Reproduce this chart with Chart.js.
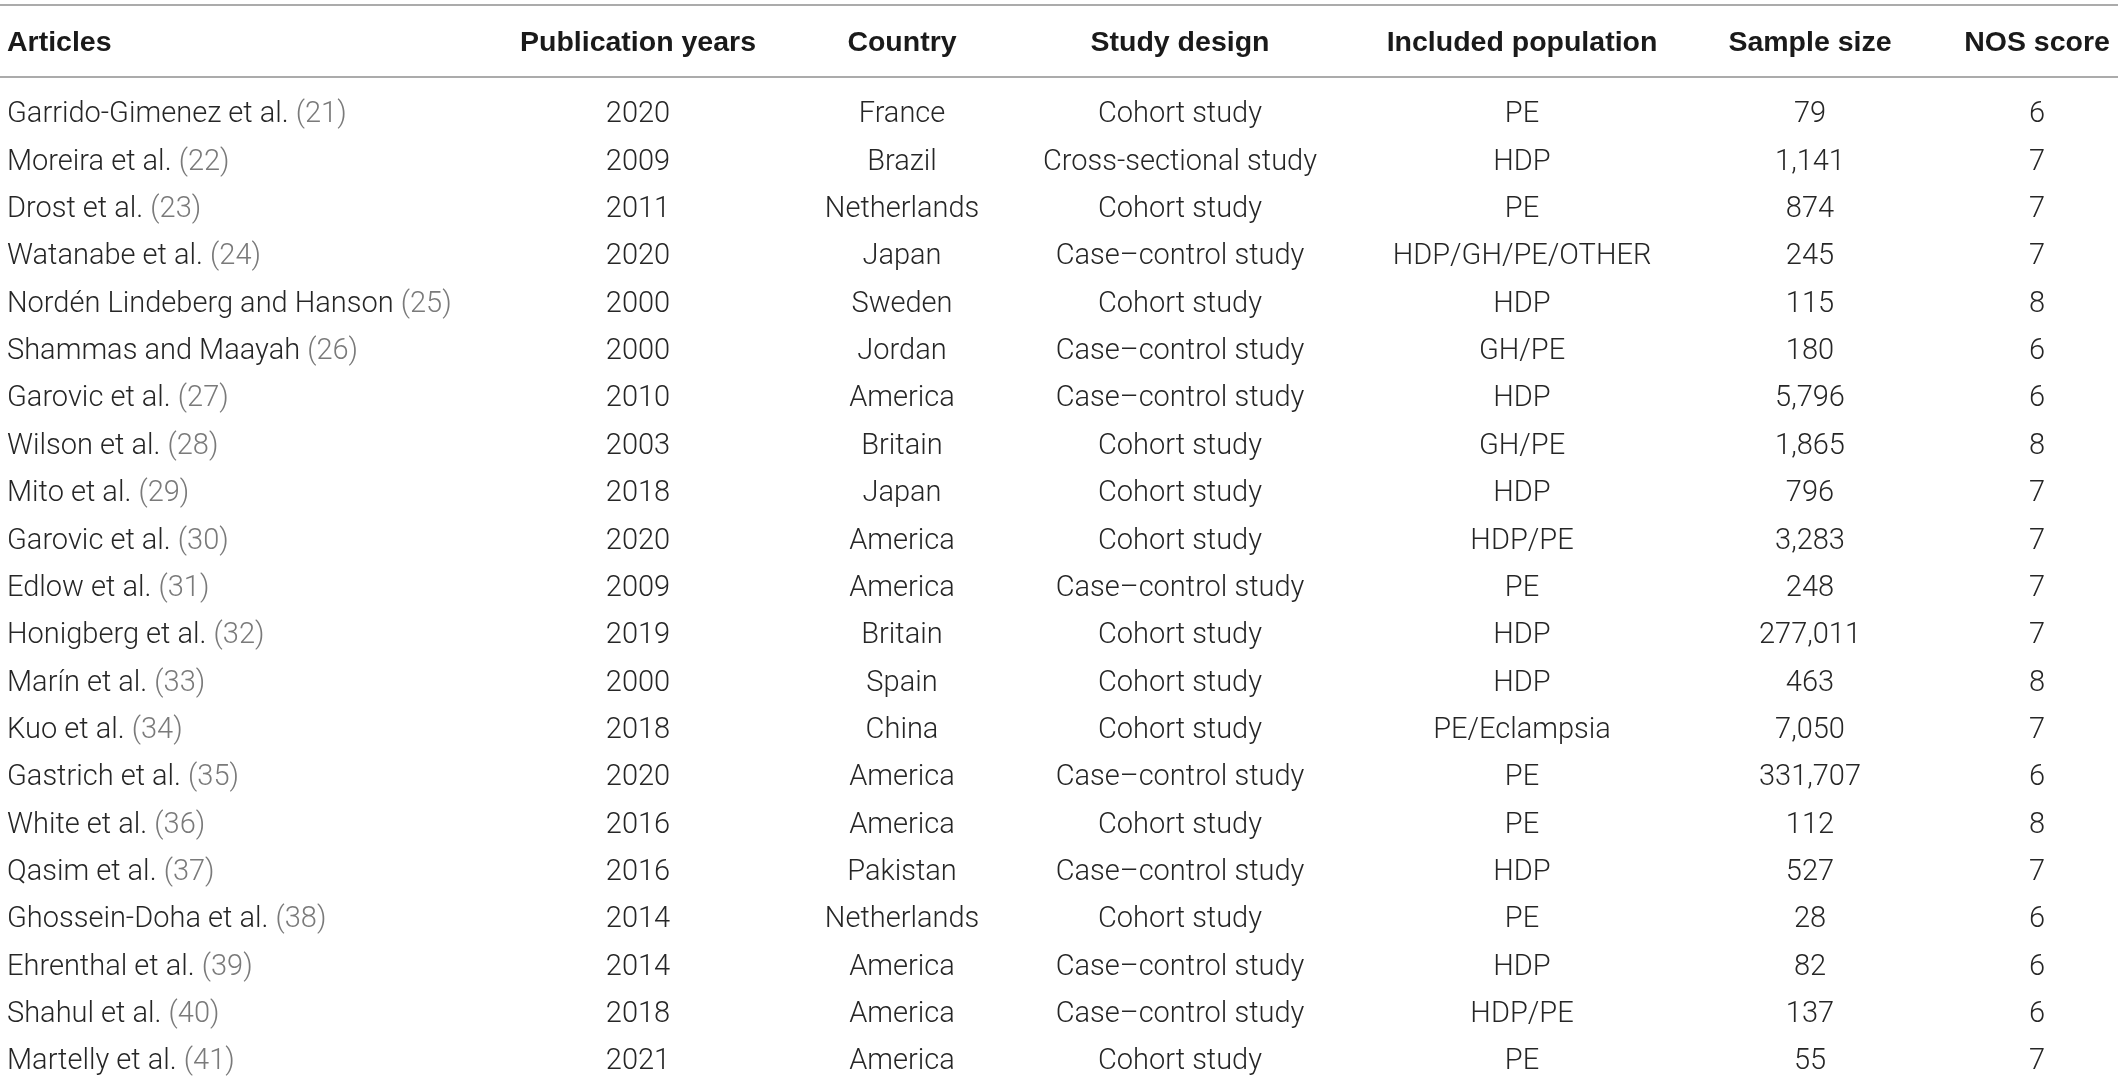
<!DOCTYPE html>
<html>
<head>
<meta charset="utf-8">
<script src="https://cdn.jsdelivr.net/npm/chart.js@4.4.1/dist/chart.umd.min.js"></script>
<style>
  html, body { margin: 0; padding: 0; background: #fff; }
  .table-area { width: 2118px; height: 1080px; position: relative; }
</style>
</head>
<body>
<div class="table-area"><canvas id="myChart"></canvas></div>
<script>
// column headers
const headers = ['Articles', 'Publication years', 'Country', 'Study design', 'Included population', 'Sample size', 'NOS score'];

// one entry per article, top to bottom
const authors = [
  'Garrido-Gimenez et al.', 'Moreira et al.', 'Drost et al.', 'Watanabe et al.',
  'Nordén Lindeberg and Hanson', 'Shammas and Maayah', 'Garovic et al.', 'Wilson et al.',
  'Mito et al.', 'Garovic et al.', 'Edlow et al.', 'Honigberg et al.', 'Marín et al.',
  'Kuo et al.', 'Gastrich et al.', 'White et al.', 'Qasim et al.', 'Ghossein-Doha et al.',
  'Ehrenthal et al.', 'Shahul et al.', 'Martelly et al.'
];
const refs = [21, 22, 23, 24, 25, 26, 27, 28, 29, 30, 31, 32, 33, 34, 35, 36, 37, 38, 39, 40, 41];
const years = [2020, 2009, 2011, 2020, 2000, 2000, 2010, 2003, 2018, 2020, 2009, 2019, 2000, 2018, 2020, 2016, 2016, 2014, 2014, 2018, 2021];
const countries = [
  'France', 'Brazil', 'Netherlands', 'Japan', 'Sweden', 'Jordan', 'America', 'Britain',
  'Japan', 'America', 'America', 'Britain', 'Spain', 'China', 'America', 'America',
  'Pakistan', 'Netherlands', 'America', 'America', 'America'
];
const designs = [
  'Cohort study', 'Cross-sectional study', 'Cohort study', 'Case–control study', 'Cohort study',
  'Case–control study', 'Case–control study', 'Cohort study', 'Cohort study', 'Cohort study',
  'Case–control study', 'Cohort study', 'Cohort study', 'Cohort study', 'Case–control study',
  'Cohort study', 'Case–control study', 'Cohort study', 'Case–control study', 'Case–control study',
  'Cohort study'
];
const populations = [
  'PE', 'HDP', 'PE', 'HDP/GH/PE/OTHER', 'HDP', 'GH/PE', 'HDP', 'GH/PE', 'HDP', 'HDP/PE',
  'PE', 'HDP', 'HDP', 'PE/Eclampsia', 'PE', 'PE', 'HDP', 'PE', 'HDP', 'HDP/PE', 'PE'
];
const sampleSizes = [79, 1141, 874, 245, 115, 180, 5796, 1865, 796, 3283, 248, 277011, 463, 7050, 331707, 112, 527, 28, 82, 137, 55];
const nosScores = [6, 7, 7, 7, 8, 6, 6, 8, 7, 7, 7, 7, 8, 7, 6, 8, 7, 6, 6, 6, 7];

// layout: where each column sits on the x scale, and how it is aligned
const colX = [7, 638, 902, 1180, 1522, 1810, 2037];
const colAlign = ['left', 'center', 'center', 'center', 'center', 'center', 'center'];
const headerHeight = 72;

const bodyFont = { size: 29, weight: 300, family: 'Roboto, "Liberation Sans", sans-serif' };
const headFont = { size: 28.5, weight: 'bold', family: '"Liberation Sans", Arial, sans-serif' };
const textColor = '#262626';
const headColor = '#1a1a1a';
const refColor = '#7a7a7a';
const ruleColor = '#ababab';

const columns = [
  authors,
  years.map(String),
  countries,
  designs,
  populations,
  sampleSizes.map(n => n.toLocaleString('en-US')),
  nosScores.map(String)
];

//every cell becomes a point; the plugin writes the text at the point
const datasets = columns.map((texts, c) => ({
  label: headers[c],
  texts: texts,
  data: texts.map((t, i) => ({ x: colX[c], y: i })),
  pointRadius: 0,
  pointHoverRadius: 0,
  showLine: false
}));

const tablePlugin = {
  id: 'tableText',
  afterDatasetsDraw(chart) {
    const ctx = chart.ctx;
    const area = chart.chartArea;
    const xs = chart.scales.x;
    const topRule = area.top - headerHeight;
    ctx.save();

    // rules above and below the header
    ctx.strokeStyle = ruleColor;
    ctx.lineWidth = 2;
    [topRule, area.top].forEach(y => {
      ctx.beginPath();
      ctx.moveTo(0, y);
      ctx.lineTo(chart.width, y);
      ctx.stroke();
    });

    // header, centred on its cap height
    ctx.font = `${headFont.weight} ${headFont.size}px ${headFont.family}`;
    ctx.fillStyle = headColor;
    ctx.textBaseline = 'alphabetic';
    const headY = (topRule + area.top) / 2 + headFont.size * 0.358;
    headers.forEach((h, c) => {
      ctx.textAlign = colAlign[c];
      ctx.fillText(h, xs.getPixelForValue(colX[c]), headY);
    });

    // body cells
    ctx.font = `${bodyFont.weight} ${bodyFont.size}px ${bodyFont.family}`;
    const dy = bodyFont.size * 0.355;
    chart.data.datasets.forEach((ds, c) => {
      const meta = chart.getDatasetMeta(c);
      ctx.textAlign = colAlign[c];
      meta.data.forEach((pt, i) => {
        ctx.fillStyle = textColor;
        if (c === 0) {
          const main = ds.texts[i] + ' ';
          ctx.fillText(main, pt.x, pt.y + dy);
          const w = ctx.measureText(main).width;
          ctx.fillStyle = refColor;
          ctx.fillText(`(${refs[i]})`, pt.x + w, pt.y + dy);
        } else {
          ctx.fillText(ds.texts[i], pt.x, pt.y + dy);
        }
      });
    });
    ctx.restore();
  }
};

new Chart(document.getElementById('myChart'), {
  type: 'scatter',
  data: { datasets: datasets },
  options: {
    responsive: true,
    maintainAspectRatio: false,
    animation: false,
    events: [],
    layout: { padding: { top: 77, left: 0, right: 0, bottom: 0 } },
    scales: {
      x: { type: 'linear', display: false, min: 0, max: 2118 },
      y: { type: 'linear', display: false, reverse: true, min: -0.739, max: 20.44 }
    },
    plugins: {
      legend: { display: false },
      tooltip: { enabled: false }
    }
  },
  plugins: [tablePlugin]
});
</script>
</body>
</html>
